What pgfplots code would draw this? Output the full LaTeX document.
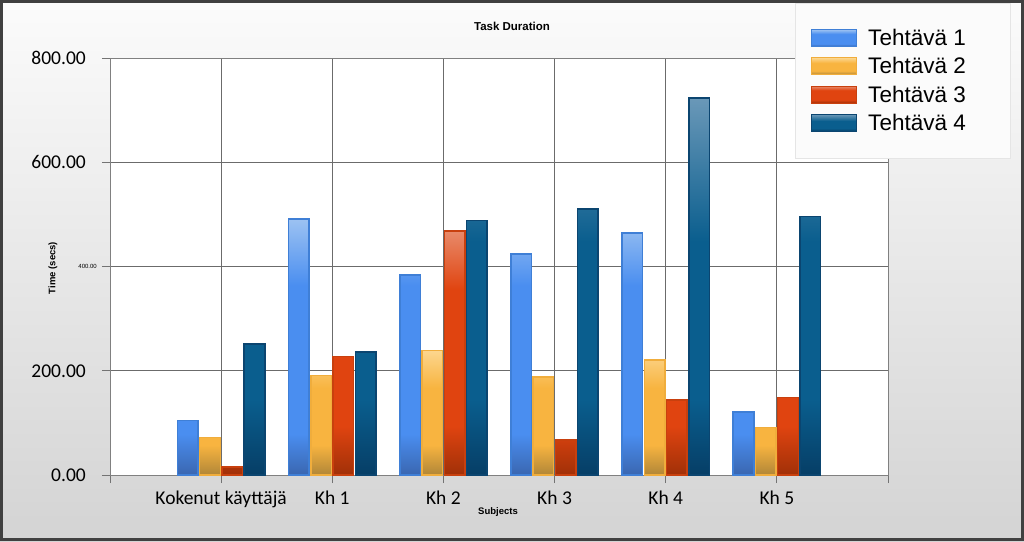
\documentclass[border=0pt]{standalone}
\usepackage{pgfplots}
\pgfplotsset{compat=1.18}
\usepackage{fontspec}
\setmainfont{Carlito}
\newfontfamily\lib{Liberation Sans}
\definecolor{bAe}{HTML}{3F7FD6}\definecolor{bAt}{HTML}{9CC2F2}\definecolor{bAm}{HTML}{4A8EF0}\definecolor{bAb}{HTML}{3A66B0}\definecolor{bAl}{HTML}{3D85E6}
\definecolor{bBe}{HTML}{F0AD3C}\definecolor{bBt}{HTML}{FCD68E}\definecolor{bBm}{HTML}{F8B440}\definecolor{bBb}{HTML}{B08638}\definecolor{bBl}{HTML}{FBB040}
\definecolor{bCe}{HTML}{C8400E}\definecolor{bCt}{HTML}{E88A6A}\definecolor{bCm}{HTML}{E04410}\definecolor{bCb}{HTML}{A03008}\definecolor{bCl}{HTML}{E0440E}
\definecolor{bDe}{HTML}{0B4570}\definecolor{bDt}{HTML}{6A98B8}\definecolor{bDm}{HTML}{0A5E8E}\definecolor{bDb}{HTML}{063E66}\definecolor{bDl}{HTML}{0B5B8A}
\pgfdeclareverticalshading{shA}{100bp}{color(0bp)=(bAb); color(25bp)=(bAb); color(33bp)=(bAm); color(62bp)=(bAm); color(75bp)=(bAt); color(100bp)=(bAt)}
\pgfdeclareverticalshading{shB}{100bp}{color(0bp)=(bBb); color(25bp)=(bBb); color(37bp)=(bBm); color(60bp)=(bBm); color(75bp)=(bBt); color(100bp)=(bBt)}
\pgfdeclareverticalshading{shC}{100bp}{color(0bp)=(bCb); color(25bp)=(bCb); color(35bp)=(bCm); color(63bp)=(bCm); color(75bp)=(bCt); color(100bp)=(bCt)}
\pgfdeclareverticalshading{shD}{100bp}{color(0bp)=(bDb); color(25bp)=(bDb); color(35bp)=(bDm); color(56bp)=(bDm); color(75bp)=(bDt); color(100bp)=(bDt)}
\pgfplotsset{legbox/.style 2 args={legend image code/.code={\draw[draw=#1,fill=#2,line width=1pt] (0pt,-8.5pt) rectangle (45pt,8.5pt);}}}
\pgfplotstableread{
x t1 t2 t3 t4
0 105 72 15 251
1 491 191 227 236
2 384 239 468 488
3 424 188 67 510
4 464 221 144 723
5 121 91 149 496
}\data
\begin{document}
\begin{tikzpicture}
\useasboundingbox (0pt,0pt) rectangle (1024pt,541pt);
\shade[top color=gray!3, bottom color=gray!34] (0pt,0pt) rectangle (1024pt,541pt);
\begin{axis}[
  at={(110pt,66pt)}, anchor=south west,
  scale only axis, width=778pt, height=417pt,
  xmin=-1, xmax=6, ymin=0, ymax=800,
  axis background/.style={fill=white},
  xtick={-1,0,1,2,3,4,5,6},
  xticklabels={,Kokenut käyttäjä,Kh 1,Kh 2,Kh 3,Kh 4,Kh 5,},
  ytick={0,200,400,600,800},
  yticklabels={0.00,200.00,{\fontsize{6}{7}\selectfont\lib 400.00\hspace*{-11pt}},600.00,800.00},
  xtick pos=bottom, ytick pos=left,
  grid=major,
  grid style={color=black!58, line width=0.8pt},
  axis line style={color=black!50, line width=1pt},
  tick align=outside, major tick length=8pt,
  tick style={color=black!55, line width=0.8pt},
  xticklabel style={font=\fontsize{19.5}{22}\selectfont, inner sep=0pt, anchor=base, yshift=-21pt},
  yticklabel style={font=\fontsize{19.5}{22}\selectfont, inner sep=0pt, anchor=east, xshift=-16pt},
  ybar, bar width=0.185,
  legend style={at={(0.8805,1.1319)}, anchor=north west, fill=white!97!gray, draw=black!10,
     font=\lib\fontsize{22.5}{25}\selectfont, inner xsep=16pt, inner ysep=24pt,
     row sep=6.5pt, column sep=9pt, cells={anchor=west}},
]
\addplot[bar shift=-0.3, draw=bAe, line width=1.5pt, shade, shading=shA, legbox={bAe}{bAl}] table[x=x,y=t1] {\data};
\addplot[bar shift=-0.1, draw=bBe, line width=1.5pt, shade, shading=shB, legbox={bBe}{bBl}] table[x=x,y=t2] {\data};
\addplot[bar shift=0.1, draw=bCe, line width=1.5pt, shade, shading=shC, legbox={bCe}{bCl}] table[x=x,y=t3] {\data};
\addplot[bar shift=0.3, draw=bDe, line width=1.5pt, shade, shading=shD, legbox={bDe}{bDl}] table[x=x,y=t4] {\data};
\legend{Tehtävä 1\hspace*{26pt},Tehtävä 2,Tehtävä 3,Tehtävä 4}
\end{axis}
\draw[line width=3pt, color=black!75] (1.5pt,1.5pt) rectangle (1022.5pt,539.5pt);
\node[font=\lib\bfseries\fontsize{11.5}{13}\selectfont] at (512pt,515pt) {Task Duration};
\node[font=\lib\bfseries\fontsize{9.5}{11}\selectfont, rotate=90] at (53pt,273pt) {Time (secs)};
\node[font=\lib\bfseries\fontsize{9.5}{11}\selectfont] at (498pt,29pt) {Subjects};
\end{tikzpicture}
\end{document}
